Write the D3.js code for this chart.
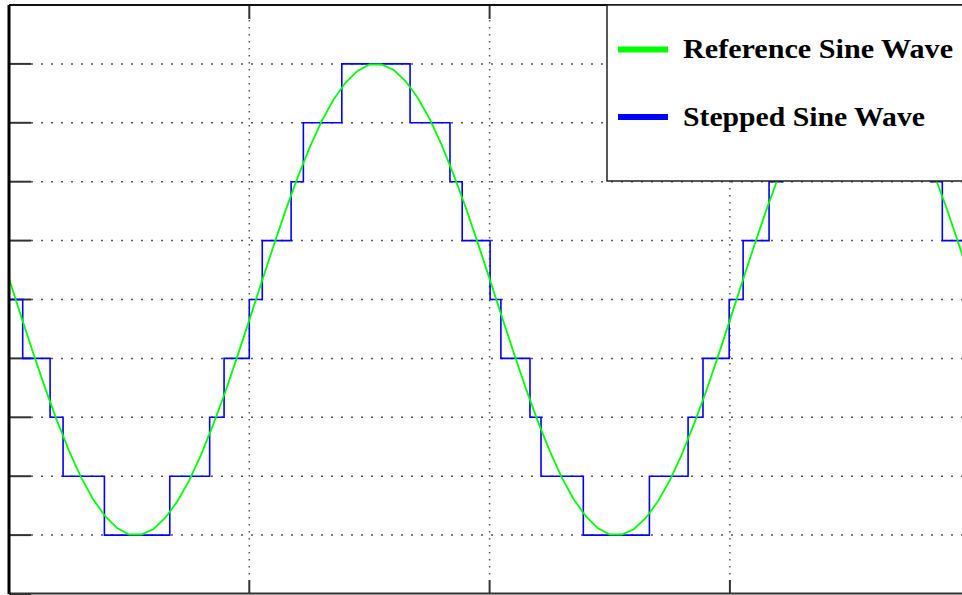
<!DOCTYPE html>
<html>
<head>
<meta charset="utf-8">
<script src="https://cdn.jsdelivr.net/npm/d3@7"></script>
<style>
  html, body { margin: 0; padding: 0; background: #fff; overflow: hidden; }
  svg { display: block; }
</style>
</head>
<body>
<div id="chart"></div>
<script>
// time in ms, amplitude in step units
const sineTimes = [
  0, 0.5, 1, 1.5, 2, 2.5, 3, 3.5, 4, 4.5, 5, 5.5, 6, 6.5, 7, 7.5, 8, 8.5, 9, 9.5,
  10, 10.5, 11, 11.5, 12, 12.5, 13, 13.5, 14, 14.5, 15, 15.5, 16, 16.5, 17, 17.5, 18, 18.5, 19, 19.5,
  20, 20.5, 21, 21.5, 22, 22.5, 23, 23.5, 24, 24.5, 25, 25.5, 26, 26.5, 27, 27.5, 28, 28.5, 29, 29.5,
  30, 30.5, 31, 31.5, 32, 32.5, 33, 33.5, 34, 34.5, 35, 35.5, 36, 36.5, 37, 37.5, 38, 38.5, 39, 39.5,
  40
];
const sineValues = [
  0.35, -0.28, -0.90, -1.50, -2.06, -2.57, -3.02, -3.39, -3.68, -3.88, -3.99, -3.99, -3.90, -3.71, -3.43, -3.07, -2.63, -2.12, -1.57, -0.97,
  -0.35, 0.28, 0.90, 1.50, 2.06, 2.57, 3.02, 3.39, 3.68, 3.88, 3.99, 3.99, 3.90, 3.71, 3.43, 3.07, 2.63, 2.12, 1.57, 0.97,
  0.35, -0.28, -0.90, -1.50, -2.06, -2.57, -3.02, -3.39, -3.68, -3.88, -3.99, -3.99, -3.90, -3.71, -3.43, -3.07, -2.63, -2.12, -1.57, -0.97,
  -0.35, 0.28, 0.90, 1.50, 2.06, 2.57, 3.02, 3.39, 3.68, 3.88, 3.99, 3.99, 3.90, 3.71, 3.43, 3.07, 2.63, 2.12, 1.57, 0.97,
  0.35
];
// switching instants (ms) and the level held from each one on
const stepTimes = [
  0, 0.57, 1.71, 2.25, 3.97, 6.69, 8.35, 8.95,
  10.0, 10.54, 11.74, 12.25, 13.85, 16.69, 18.35, 18.86,
  20.02, 20.47, 21.68, 22.14, 23.9, 26.65, 28.26, 28.88,
  29.97, 30.55, 31.63, 32.2, 33.9, 36.7, 38.35, 38.84, 40
];
const stepLevels = [
  0, -1, -2, -3, -4, -3, -2, -1,
  0, 1, 2, 3, 4, 3, 2, 1,
  0, -1, -2, -3, -4, -3, -2, -1,
  0, 1, 2, 3, 4, 3, 2, 1, 1
];
const yTicks = [-5, -4, -3, -2, -1, 0, 1, 2, 3, 4, 5];
const xTicks = [0, 10, 20, 30, 40];
const seriesNames = ['Reference Sine Wave', 'Stepped Sine Wave'];
const seriesColors = ['#00ff00', '#0000ff'];

const width = 962, height = 595;

const x = d3.scaleLinear().domain([0, 40]).range([9, 970.2]);
const y = d3.scaleLinear().domain([-5, 5]).range([594, 5]);

const svg = d3.select('#chart')
  .append('svg')
  .attr('width', width)
  .attr('height', height);

svg.append('defs').append('clipPath')
  .attr('id', 'plot-clip')
  .append('rect')
  .attr('x', x(0))
  .attr('y', y(5))
  .attr('width', x(40) - x(0))
  .attr('height', y(-5) - y(5));

// dotted grid
const grid = svg.append('g').attr('class', 'grid');
grid.selectAll('line.hgrid')
  .data(yTicks.filter(d => d > -5 && d < 5))
  .enter().append('line')
  .attr('class', 'hgrid')
  .attr('x1', x(0) + 22)
  .attr('x2', x(40))
  .attr('y1', d => y(d))
  .attr('y2', d => y(d))
  .attr('stroke', '#555')
  .attr('stroke-width', 1.5)
  .attr('stroke-dasharray', '2,8');
grid.selectAll('line.vgrid')
  .data(xTicks.filter(d => d > 0 && d < 40))
  .enter().append('line')
  .attr('class', 'vgrid')
  .attr('x1', d => x(d))
  .attr('x2', d => x(d))
  .attr('y1', y(5) + 15)
  .attr('y2', y(-5) - 14)
  .attr('stroke', '#555')
  .attr('stroke-width', 1.5)
  .attr('stroke-dasharray', '1.5,5.5');

// tick marks
const ticks = svg.append('g').attr('class', 'ticks')
  .attr('stroke', '#333')
  .attr('stroke-width', 2);
ticks.selectAll('line.ytick')
  .data(yTicks)
  .enter().append('line')
  .attr('class', 'ytick')
  .attr('x1', x(0))
  .attr('x2', x(0) + 22)
  .attr('y1', d => y(d))
  .attr('y2', d => y(d));
ticks.selectAll('line.xtick-top')
  .data(xTicks)
  .enter().append('line')
  .attr('class', 'xtick-top')
  .attr('x1', d => x(d))
  .attr('x2', d => x(d))
  .attr('y1', y(5))
  .attr('y2', y(5) + 14);
ticks.selectAll('line.xtick-bottom')
  .data(xTicks)
  .enter().append('line')
  .attr('class', 'xtick-bottom')
  .attr('x1', d => x(d))
  .attr('x2', d => x(d))
  .attr('y1', y(-5))
  .attr('y2', y(-5) - 14);

// series
const plot = svg.append('g').attr('clip-path', 'url(#plot-clip)');

const stepLine = d3.line()
  .x(d => x(d[0]))
  .y(d => y(d[1]))
  .curve(d3.curveStepAfter);
plot.append('path')
  .datum(stepTimes.map((t, i) => [t, stepLevels[i]]))
  .attr('d', stepLine)
  .attr('fill', 'none')
  .attr('stroke', seriesColors[1])
  .attr('stroke-width', 1.6);

const sineLine = d3.line()
  .x(d => x(d[0]))
  .y(d => y(d[1]));
plot.append('path')
  .datum(sineTimes.map((t, i) => [t, sineValues[i]]))
  .attr('d', sineLine)
  .attr('fill', 'none')
  .attr('stroke', seriesColors[0])
  .attr('stroke-width', 1.8);

// axes box
svg.append('line')
  .attr('x1', x(0)).attr('x2', x(40))
  .attr('y1', y(5)).attr('y2', y(5))
  .attr('stroke', '#111').attr('stroke-width', 2);
svg.append('line')
  .attr('x1', x(0)).attr('x2', x(40))
  .attr('y1', y(-5) - 0.5).attr('y2', y(-5) - 0.5)
  .attr('stroke', '#333').attr('stroke-width', 2);
svg.append('line')
  .attr('x1', x(0)).attr('x2', x(0))
  .attr('y1', y(5)).attr('y2', y(-5))
  .attr('stroke', '#000').attr('stroke-width', 3);

// legend
const legend = svg.append('g').attr('class', 'legend');
legend.append('rect')
  .attr('x', 607)
  .attr('y', y(5))
  .attr('width', 400)
  .attr('height', 176)
  .attr('fill', '#fff')
  .attr('stroke', '#222')
  .attr('stroke-width', 1.5);

const legendRows = [{ sy: 49.5, ty: 58, len: 270 }, { sy: 117, ty: 126, len: 242 }];
legendRows.forEach((row, i) => {
  legend.append('line')
    .attr('x1', 618).attr('x2', 668)
    .attr('y1', row.sy).attr('y2', row.sy)
    .attr('stroke', seriesColors[i])
    .attr('stroke-width', 6);
  legend.append('text')
    .attr('x', 683)
    .attr('y', row.ty)
    .attr('font-family', '"Liberation Serif", "DejaVu Serif", serif')
    .attr('font-weight', 'bold')
    .attr('font-size', 28)
    .attr('textLength', row.len)
    .attr('lengthAdjust', 'spacingAndGlyphs')
    .attr('fill', '#000')
    .text(seriesNames[i]);
});
</script>
</body>
</html>
